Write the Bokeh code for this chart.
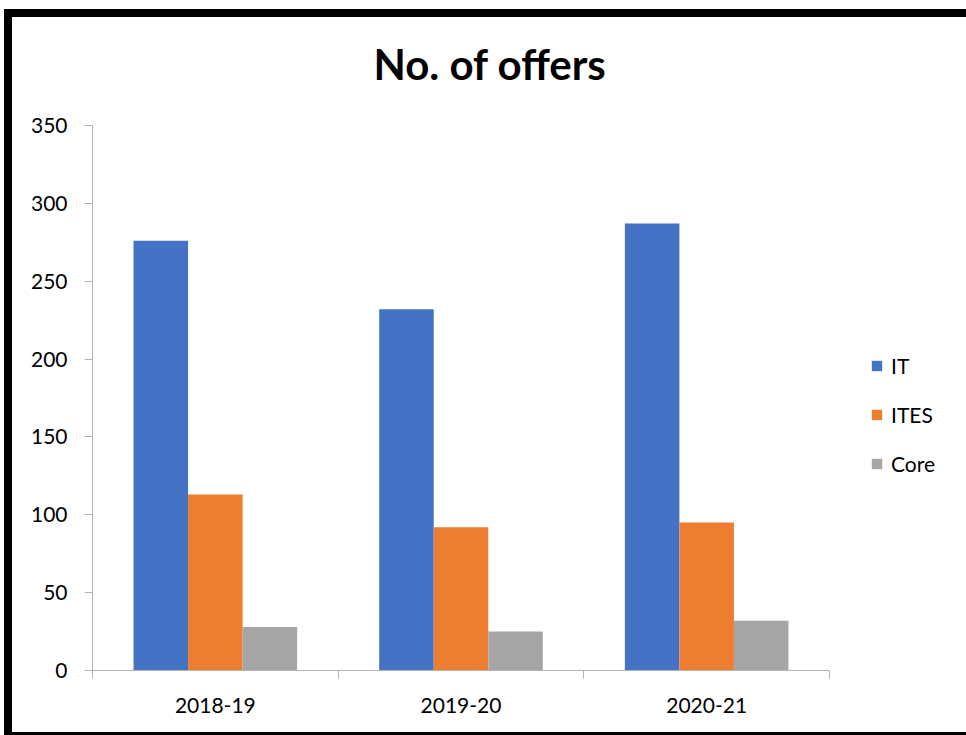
import numpy as np
from bokeh.plotting import figure
from bokeh.models import (Range1d, FixedTicker, LinearAxis, Legend, LegendItem,
                          ColumnDataSource, Title)
from bokeh.transform import dodge
from bokeh.embed import file_html
from bokeh.resources import INLINE

title_text = "No. of offers"
years = ["2018-19", "2019-20", "2020-21"]
it_vals = [276, 232, 287]
ites_vals = [113, 92, 95]
core_vals = [28, 25, 32]
series = ["IT", "ITES", "Core"]
colors = ["#4472C4", "#ED7D31", "#A5A5A5"]
y_ticks = [0, 50, 100, 150, 200, 250, 300, 350]

FONT = "Lato"
AXIS_GRAY = "#B3B3B3"

src = ColumnDataSource(dict(x=np.arange(len(years)) + 0.5,
                            IT=it_vals, ITES=ites_vals, Core=core_vals))

p = figure(width=950, height=715, frame_width=737, frame_height=545,
           x_range=Range1d(0, len(years)), y_range=Range1d(0, 350),
           output_backend="svg", toolbar_location=None, x_axis_type=None,
           min_border_left=80, min_border_right=133, min_border_top=108,
           min_border_bottom=62)
p.title = None
p.styles = {"margin-left": "4px", "margin-top": "9px",
            "border-left": "8px solid black", "border-top": "8px solid black",
            "border-bottom": "3px solid black", "border-right": "none"}
p.outline_line_color = None
p.grid.visible = False

# spacer between plot area and title (first added = nearest the plot area)
p.add_layout(Title(text=" ", text_font_size="2px", standoff=33), "above")
p.add_layout(Title(text=title_text, text_font=FONT, text_font_size="42px",
                   text_font_style="bold", align="left", offset=281, standoff=0,
                   text_color="black"), "above")

bw = 0.222
renderers = []
for i, (name, col) in enumerate(zip(series, colors)):
    r = p.vbar(x=dodge("x", (i - 1) * bw, range=p.x_range), top=name, width=bw,
               source=src, fill_color=col, line_color=None)
    renderers.append(r)

# y axis
ya = p.yaxis[0]
ya.ticker = FixedTicker(ticks=y_ticks)
ya.axis_line_color = AXIS_GRAY
ya.major_tick_line_color = AXIS_GRAY
ya.major_tick_out = 8
ya.major_tick_in = 0
ya.minor_tick_line_color = None
ya.major_label_standoff = 17
ya.major_label_text_font = FONT
ya.major_label_text_font_size = "21px"
ya.major_label_text_color = "black"

# x axis: labels at category centres, ticks at category boundaries
xa = LinearAxis(ticker=FixedTicker(ticks=list(np.arange(len(years)) + 0.5),
                                   minor_ticks=list(range(len(years) + 1))))
xa.major_label_overrides = {float(i) + 0.5: y for i, y in enumerate(years)}
xa.axis_line_color = AXIS_GRAY
xa.major_tick_line_color = None
xa.major_tick_out = 8
xa.minor_tick_line_color = AXIS_GRAY
xa.minor_tick_out = 8
xa.minor_tick_in = 0
xa.major_label_standoff = 19
xa.major_label_text_font = FONT
xa.major_label_text_font_size = "21px"
xa.major_label_text_color = "black"
p.add_layout(xa, "below")

legend = Legend(items=[LegendItem(label=s, renderers=[r]) for s, r in zip(series, renderers)],
                location=(41, 194), margin=0, padding=0, spacing=24,
                glyph_width=13, glyph_height=13, label_height=24,
                label_standoff=8, label_text_font=FONT,
                label_text_font_size="21px", label_text_color="black",
                border_line_color=None, background_fill_alpha=0)
p.add_layout(legend, "right")

open("out.html", "w").write(file_html(p, INLINE))
